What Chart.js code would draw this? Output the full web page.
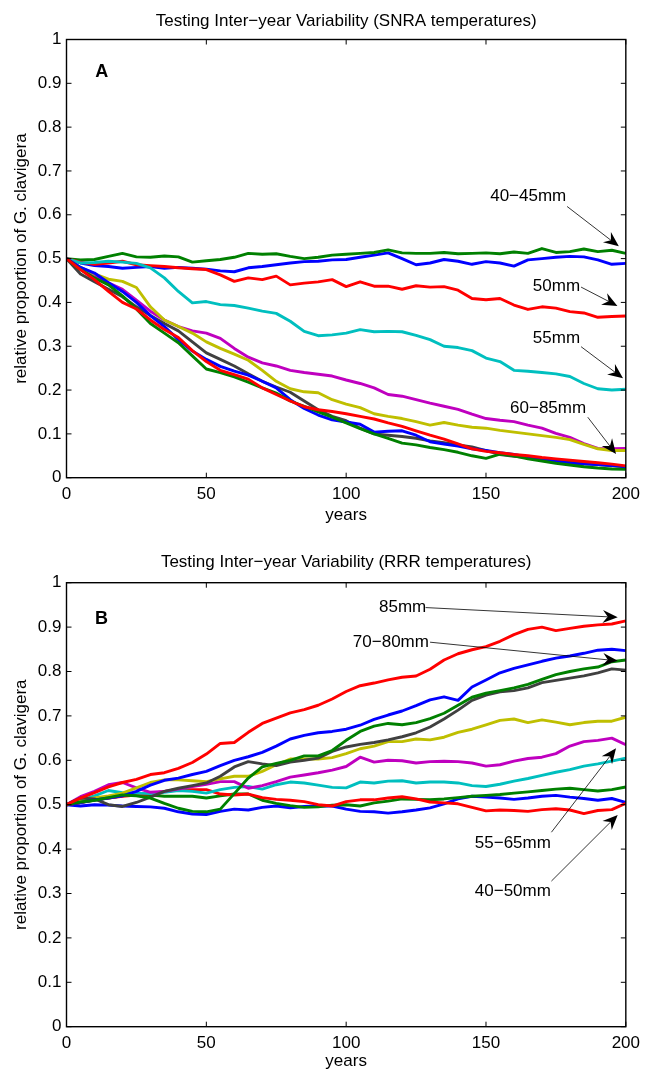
<!DOCTYPE html>
<html>
<head>
<meta charset="utf-8">
<script src="https://cdn.jsdelivr.net/npm/chart.js@4.4.0/dist/chart.umd.min.js"></script>
<style>
    body { margin: 0; background: #fff; }
    canvas { display: block; }
</style>
</head>
<body>
<canvas id="chartA" width="646" height="540"></canvas>
<canvas id="chartB" width="646" height="532"></canvas>
<script>
// years
var years = [0, 5, 10, 15, 20, 25, 30, 35, 40, 45, 50, 55, 60, 65, 70, 75, 80, 85, 90, 95, 100,
    105, 110, 115, 120, 125, 130, 135, 140, 145, 150, 155, 160, 165, 170, 175, 180, 185, 190, 195, 200];
var sizes = ["40mm", "45mm", "50mm", "55mm", "60mm", "65mm", "70mm", "75mm", "80mm", "85mm"];
var yTicks = [0, 0.1, 0.2, 0.3, 0.4, 0.5, 0.6, 0.7, 0.8, 0.9, 1];
var xTicks = [0, 50, 100, 150, 200];

// panel A - SNRA temperatures
var snra40 = [0.50, 0.49, 0.484, 0.482, 0.478, 0.48, 0.482, 0.478, 0.48, 0.478, 0.476, 0.472, 0.47, 0.479, 0.482, 0.486, 0.49, 0.493, 0.494, 0.497, 0.498,
    0.503, 0.508, 0.513, 0.50, 0.486, 0.49, 0.498, 0.494, 0.487, 0.493, 0.49, 0.483, 0.497, 0.50, 0.503, 0.505, 0.504, 0.497, 0.487, 0.489];
var snra45 = [0.50, 0.497, 0.498, 0.505, 0.512, 0.504, 0.503, 0.506, 0.504, 0.492, 0.495, 0.498, 0.503, 0.512, 0.51, 0.511, 0.505, 0.50, 0.503, 0.508, 0.51,
    0.512, 0.514, 0.52, 0.513, 0.512, 0.512, 0.514, 0.511, 0.512, 0.513, 0.511, 0.515, 0.512, 0.523, 0.514, 0.516, 0.522, 0.516, 0.519, 0.512];
var snra50 = [0.50, 0.492, 0.487, 0.49, 0.494, 0.486, 0.484, 0.482, 0.479, 0.477, 0.475, 0.463, 0.448, 0.456, 0.452, 0.46, 0.44, 0.444, 0.447, 0.452, 0.436,
    0.447, 0.437, 0.437, 0.43, 0.438, 0.435, 0.436, 0.428, 0.409, 0.406, 0.409, 0.394, 0.384, 0.39, 0.387, 0.379, 0.376, 0.366, 0.368, 0.369];
var snra55 = [0.50, 0.49, 0.491, 0.494, 0.492, 0.489, 0.479, 0.456, 0.425, 0.399, 0.402, 0.395, 0.393, 0.387, 0.38, 0.375, 0.357, 0.334, 0.324, 0.326, 0.33,
    0.338, 0.333, 0.334, 0.333, 0.325, 0.315, 0.30, 0.297, 0.29, 0.273, 0.265, 0.245, 0.243, 0.24, 0.237, 0.231, 0.215, 0.203, 0.20, 0.202];
var snra60 = [0.50, 0.48, 0.46, 0.445, 0.43, 0.405, 0.38, 0.36, 0.345, 0.335, 0.33, 0.318, 0.295, 0.275, 0.262, 0.255, 0.245, 0.24, 0.236, 0.232, 0.223,
    0.215, 0.205, 0.19, 0.186, 0.178, 0.17, 0.163, 0.156, 0.145, 0.135, 0.131, 0.128, 0.12, 0.113, 0.101, 0.092, 0.078, 0.067, 0.066, 0.067];
var snra65 = [0.50, 0.48, 0.465, 0.453, 0.448, 0.434, 0.39, 0.36, 0.345, 0.33, 0.31, 0.295, 0.282, 0.268, 0.245, 0.22, 0.203, 0.196, 0.194, 0.178, 0.168,
    0.16, 0.146, 0.14, 0.135, 0.128, 0.12, 0.126, 0.12, 0.115, 0.113, 0.108, 0.104, 0.10, 0.096, 0.092, 0.087, 0.076, 0.066, 0.062, 0.062];
var snra70 = [0.50, 0.465, 0.447, 0.43, 0.413, 0.39, 0.37, 0.352, 0.335, 0.31, 0.285, 0.27, 0.255, 0.237, 0.22, 0.207, 0.195, 0.175, 0.155, 0.14, 0.13,
    0.113, 0.10, 0.097, 0.094, 0.09, 0.084, 0.08, 0.075, 0.07, 0.062, 0.053, 0.049, 0.046, 0.043, 0.04, 0.037, 0.033, 0.03, 0.027, 0.025];
var snra75 = [0.50, 0.48, 0.467, 0.445, 0.425, 0.40, 0.37, 0.345, 0.315, 0.289, 0.27, 0.254, 0.243, 0.234, 0.22, 0.205, 0.178, 0.158, 0.143, 0.132, 0.127,
    0.122, 0.104, 0.106, 0.107, 0.097, 0.082, 0.077, 0.072, 0.066, 0.062, 0.057, 0.053, 0.047, 0.042, 0.037, 0.033, 0.031, 0.03, 0.028, 0.025];
var snra80 = [0.50, 0.475, 0.456, 0.44, 0.415, 0.385, 0.352, 0.33, 0.308, 0.278, 0.248, 0.24, 0.23, 0.218, 0.205, 0.193, 0.175, 0.163, 0.15, 0.138, 0.125,
    0.112, 0.10, 0.09, 0.079, 0.075, 0.069, 0.064, 0.058, 0.05, 0.044, 0.054, 0.05, 0.043, 0.038, 0.033, 0.029, 0.025, 0.022, 0.02, 0.019];
var snra85 = [0.50, 0.475, 0.452, 0.425, 0.40, 0.385, 0.36, 0.338, 0.32, 0.29, 0.265, 0.245, 0.235, 0.225, 0.205, 0.19, 0.175, 0.162, 0.155, 0.151, 0.146,
    0.14, 0.134, 0.125, 0.117, 0.107, 0.097, 0.088, 0.077, 0.066, 0.06, 0.057, 0.053, 0.05, 0.046, 0.043, 0.04, 0.037, 0.034, 0.031, 0.027];

// panel B - RRR temperatures
var rrr40 = [0.50, 0.497, 0.50, 0.499, 0.497, 0.496, 0.495, 0.492, 0.484, 0.479, 0.478, 0.485, 0.49, 0.488, 0.494, 0.497, 0.493, 0.496, 0.497, 0.497, 0.49,
    0.485, 0.484, 0.481, 0.484, 0.488, 0.493, 0.502, 0.513, 0.519, 0.517, 0.515, 0.512, 0.515, 0.519, 0.521, 0.517, 0.514, 0.51, 0.514, 0.505];
var rrr45 = [0.50, 0.505, 0.51, 0.515, 0.52, 0.524, 0.522, 0.519, 0.519, 0.519, 0.515, 0.52, 0.524, 0.524, 0.51, 0.503, 0.498, 0.494, 0.495, 0.499, 0.50,
    0.497, 0.504, 0.508, 0.513, 0.512, 0.511, 0.513, 0.516, 0.519, 0.521, 0.523, 0.526, 0.529, 0.532, 0.535, 0.537, 0.534, 0.531, 0.534, 0.54];
var rrr50 = [0.50, 0.505, 0.511, 0.515, 0.519, 0.522, 0.525, 0.53, 0.533, 0.534, 0.534, 0.524, 0.522, 0.524, 0.516, 0.512, 0.51, 0.507, 0.50, 0.497, 0.507,
    0.511, 0.511, 0.515, 0.518, 0.513, 0.506, 0.504, 0.502, 0.494, 0.486, 0.488, 0.487, 0.485, 0.489, 0.491, 0.488, 0.48, 0.487, 0.489, 0.503];
var rrr55 = [0.50, 0.51, 0.52, 0.532, 0.527, 0.526, 0.525, 0.528, 0.532, 0.53, 0.526, 0.534, 0.539, 0.541, 0.535, 0.545, 0.551, 0.549, 0.544, 0.539, 0.538,
    0.551, 0.549, 0.553, 0.554, 0.549, 0.551, 0.551, 0.549, 0.543, 0.541, 0.546, 0.553, 0.559, 0.566, 0.573, 0.579, 0.587, 0.592, 0.598, 0.605];
var rrr60 = [0.50, 0.518, 0.53, 0.545, 0.55, 0.538, 0.528, 0.53, 0.535, 0.541, 0.546, 0.552, 0.552, 0.537, 0.543, 0.552, 0.562, 0.567, 0.572, 0.578, 0.586,
    0.607, 0.596, 0.60, 0.599, 0.594, 0.597, 0.598, 0.597, 0.594, 0.587, 0.59, 0.598, 0.604, 0.607, 0.615, 0.632, 0.642, 0.645, 0.65, 0.635];
var rrr65 = [0.50, 0.508, 0.515, 0.52, 0.526, 0.538, 0.55, 0.556, 0.556, 0.554, 0.552, 0.558, 0.564, 0.564, 0.575, 0.59, 0.603, 0.603, 0.603, 0.606, 0.615,
    0.626, 0.632, 0.642, 0.642, 0.648, 0.646, 0.652, 0.663, 0.67, 0.68, 0.69, 0.693, 0.685, 0.691, 0.686, 0.68, 0.685, 0.688, 0.688, 0.697];
var rrr70 = [0.50, 0.515, 0.513, 0.50, 0.496, 0.505, 0.517, 0.53, 0.537, 0.543, 0.549, 0.564, 0.585, 0.597, 0.592, 0.588, 0.596, 0.60, 0.605, 0.62, 0.63,
    0.636, 0.64, 0.646, 0.653, 0.662, 0.675, 0.693, 0.713, 0.735, 0.747, 0.754, 0.757, 0.763, 0.775, 0.78, 0.785, 0.79, 0.797, 0.806, 0.803];
var rrr75 = [0.50, 0.505, 0.511, 0.515, 0.52, 0.53, 0.544, 0.555, 0.56, 0.568, 0.575, 0.588, 0.60, 0.608, 0.618, 0.632, 0.648, 0.656, 0.662, 0.665, 0.67,
    0.679, 0.692, 0.702, 0.711, 0.723, 0.736, 0.743, 0.735, 0.765, 0.781, 0.797, 0.807, 0.815, 0.823, 0.83, 0.835, 0.841, 0.848, 0.85, 0.847];
var rrr80 = [0.50, 0.506, 0.51, 0.516, 0.522, 0.52, 0.515, 0.503, 0.492, 0.485, 0.484, 0.49, 0.525, 0.56, 0.585, 0.593, 0.60, 0.61, 0.61, 0.622, 0.645,
    0.665, 0.677, 0.683, 0.68, 0.685, 0.694, 0.706, 0.724, 0.742, 0.751, 0.757, 0.763, 0.771, 0.782, 0.793, 0.80, 0.806, 0.81, 0.822, 0.826];
var rrr85 = [0.50, 0.515, 0.527, 0.54, 0.55, 0.557, 0.568, 0.572, 0.582, 0.595, 0.614, 0.638, 0.64, 0.663, 0.683, 0.695, 0.707, 0.714, 0.724, 0.738, 0.755,
    0.768, 0.774, 0.781, 0.787, 0.79, 0.805, 0.826, 0.84, 0.849, 0.856, 0.868, 0.883, 0.895, 0.90, 0.892, 0.897, 0.902, 0.905, 0.907, 0.914];

var seriesA = [snra40, snra45, snra50, snra55, snra60, snra65, snra70, snra75, snra80, snra85];
var seriesB = [rrr40, rrr45, rrr50, rrr55, rrr60, rrr65, rrr70, rrr75, rrr80, rrr85];

// matlab-ish colour order
var lineColors = ["#0000ff", "#008000", "#ff0000", "#00bfbf", "#bf00bf", "#bfbf00", "#404040", "#0000ff", "#008000", "#ff0000"];
var fontFamily = "'Liberation Sans', Arial, Helvetica, sans-serif";

var notesA = [
    { text: "A", x: 12.6, y: 0.926, bold: true },
    { text: "40\u221245mm", x: 165.1, y: 0.642, from: [179, 0.619], to: [197.5, 0.528] },
    { text: "50mm", x: 175.2, y: 0.436, from: [184, 0.435], to: [197, 0.392] },
    { text: "55mm", x: 175.2, y: 0.318, from: [184, 0.299], to: [199, 0.227] },
    { text: "60\u221285mm", x: 172.2, y: 0.158, from: [186.4, 0.138], to: [196.5, 0.054] },
];
var notesB = [
    { text: "B", x: 12.5, y: 0.918, bold: true },
    { text: "85mm", x: 120.2, y: 0.944, from: [128.4, 0.944], to: [197.1, 0.922] },
    { text: "70\u221280mm", x: 116, y: 0.866, from: [130, 0.866], to: [197.1, 0.824] },
    { text: "55\u221265mm", x: 159.6, y: 0.413, from: [173.4, 0.438], to: [196.5, 0.627] },
    { text: "40\u221250mm", x: 159.6, y: 0.304, from: [173.4, 0.328], to: [197.1, 0.477] },
];

// box, inward ticks, text notes and arrows
var framePlugin = {
    id: "frameNotes",
    afterDatasetsDraw: function (chart, args, opts) {
        var ctx = chart.ctx;
        var a = chart.chartArea;
        var xs = chart.scales.x;
        var ys = chart.scales.y;
        ctx.save();
        ctx.strokeStyle = "#000";
        ctx.lineWidth = 1;
        ctx.beginPath();
        xs.ticks.forEach(function (t) {
            var px = xs.getPixelForValue(t.value);
            ctx.moveTo(px, a.bottom);
            ctx.lineTo(px, a.bottom - 5);
            ctx.moveTo(px, a.top);
            ctx.lineTo(px, a.top + 5);
        });
        ys.ticks.forEach(function (t) {
            var py = ys.getPixelForValue(t.value);
            ctx.moveTo(a.left, py);
            ctx.lineTo(a.left + 5, py);
            ctx.moveTo(a.right, py);
            ctx.lineTo(a.right - 5, py);
        });
        ctx.stroke();
        ctx.lineWidth = 1.4;
        ctx.strokeRect(a.left, a.top, a.right - a.left, a.bottom - a.top);

        ctx.fillStyle = "#000";
        ctx.textAlign = "center";
        ctx.textBaseline = "middle";
        (opts.notes || []).forEach(function (n) {
            ctx.font = (n.bold ? "bold 18px " : "17px ") + fontFamily;
            ctx.fillText(n.text, xs.getPixelForValue(n.x), ys.getPixelForValue(n.y));
            if (!n.from) return;
            var x1 = xs.getPixelForValue(n.from[0]), y1 = ys.getPixelForValue(n.from[1]);
            var x2 = xs.getPixelForValue(n.to[0]), y2 = ys.getPixelForValue(n.to[1]);
            var len = Math.sqrt((x2 - x1) * (x2 - x1) + (y2 - y1) * (y2 - y1));
            var ux = (x2 - x1) / len, uy = (y2 - y1) / len;
            var headL = 15, headW = 6.5, notch = 10;
            ctx.lineWidth = 0.8;
            ctx.beginPath();
            ctx.moveTo(x1, y1);
            ctx.lineTo(x2 - ux * notch, y2 - uy * notch);
            ctx.stroke();
            ctx.beginPath();
            ctx.moveTo(x2, y2);
            ctx.lineTo(x2 - ux * headL - uy * headW, y2 - uy * headL + ux * headW);
            ctx.lineTo(x2 - ux * notch, y2 - uy * notch);
            ctx.lineTo(x2 - ux * headL + uy * headW, y2 - uy * headL - ux * headW);
            ctx.closePath();
            ctx.fill();
        });
        ctx.restore();
    },
};

function buildDatasets(series) {
    return series.map(function (vals, i) {
        return {
            label: sizes[i],
            data: years.map(function (yr, j) { return { x: yr, y: vals[j] }; }),
            borderColor: lineColors[i],
            backgroundColor: lineColors[i],
            borderWidth: 2.9,
            borderJoinStyle: "round",
            pointRadius: 0,
            fill: false,
            tension: 0,
            order: series.length - i, // later series on top, like matlab
        };
    });
}

function makeChart(canvasId, series, titleText, notes, layout) {
    var font = { family: fontFamily, size: 17, weight: "normal" };
    return new Chart(document.getElementById(canvasId), {
        type: "line",
        data: { datasets: buildDatasets(series) },
        plugins: [framePlugin],
        options: {
            responsive: false,
            animation: false,
            events: [],
            layout: { padding: { left: 0, right: 16, top: 0, bottom: 0 } },
            plugins: {
                legend: { display: false },
                tooltip: { enabled: false },
                title: {
                    display: true,
                    fullSize: false,
                    text: titleText,
                    color: "#000",
                    font: font,
                    padding: { top: layout.titleTop, bottom: layout.titleBottom },
                },
                frameNotes: { notes: notes },
            },
            scales: {
                x: {
                    type: "linear",
                    min: 0,
                    max: 200,
                    afterBuildTicks: function (scale) {
                        scale.ticks = xTicks.map(function (v) { return { value: v }; });
                    },
                    ticks: { color: "#000", font: font, padding: 6, maxRotation: 0, autoSkip: false },
                    grid: { display: false, drawTicks: false },
                    border: { display: false },
                    title: { display: true, text: "years", color: "#000", font: font, padding: { top: 0, bottom: layout.yearsPad } },
                    afterFit: function (scale) { scale.height = layout.xHeight; },
                },
                y: {
                    type: "linear",
                    min: 0,
                    max: 1,
                    afterBuildTicks: function (scale) {
                        scale.ticks = yTicks.map(function (v) { return { value: v }; });
                    },
                    ticks: {
                        color: "#000",
                        font: font,
                        padding: 5,
                        autoSkip: false,
                        callback: function (v) { return String(Math.round(v * 10) / 10); },
                    },
                    grid: { display: false, drawTicks: false },
                    border: { display: false },
                    title: { display: true, text: "relative proportion of G. clavigera", color: "#000", font: font, padding: { top: 11, bottom: 0 } },
                    afterFit: function (scale) { scale.width = 66.5; },
                },
            },
        },
    });
}

makeChart("chartA", seriesA, "Testing Inter\u2212year Variability (SNRA temperatures)", notesA,
    { titleTop: 11, titleBottom: 8.1, xHeight: 62.3, yearsPad: 14.5 });
makeChart("chartB", seriesB, "Testing Inter\u2212year Variability (RRR temperatures)", notesB,
    { titleTop: 12.5, titleBottom: 9.8, xHeight: 45.3, yearsPad: 0 });
</script>
</body>
</html>
